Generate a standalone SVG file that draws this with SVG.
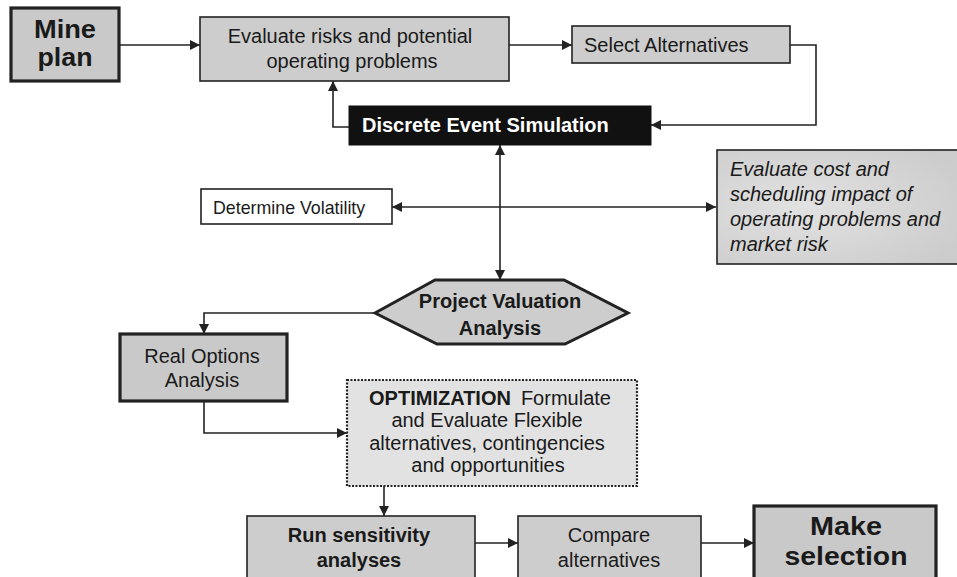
<svg xmlns="http://www.w3.org/2000/svg" width="957" height="577" viewBox="0 0 957 577">
<style>
text{font-family:"Liberation Sans",Arial,sans-serif;fill:#1a1a1a}
.box{fill:#cdcdcd;stroke:#222;stroke-width:1.6}
.thick{fill:#c9c9c9;stroke:#222;stroke-width:3.2}
.t20{font-size:20px}
.b20{font-size:20px;font-weight:bold}
.big{font-size:25px;font-weight:bold}
.c{text-anchor:middle}
.ln{fill:none;stroke:#222;stroke-width:1.6}
</style>
<defs>
<marker id="ah" viewBox="0 0 10 10" refX="10" refY="5" markerWidth="10" markerHeight="10" markerUnits="userSpaceOnUse" orient="auto-start-reverse">
<path d="M0,0 L10,5 L0,10 z" fill="#222"/>
</marker>
<radialGradient id="soft" cx="0.35" cy="0.5" r="0.7">
<stop offset="0" stop-color="#e2e2e2"/>
<stop offset="1" stop-color="#cccccc"/>
</radialGradient>
</defs>
<rect width="957" height="577" fill="#fff"/>

<g id="connectors">
<line class="ln" x1="119" y1="45" x2="200" y2="45" marker-end="url(#ah)"/>
<line class="ln" x1="509" y1="45" x2="572" y2="45" marker-end="url(#ah)"/>
<polyline class="ln" points="790,45 816,45 816,125 651,125" marker-end="url(#ah)"/>
<polyline class="ln" points="349,127 333,127 333,81" marker-end="url(#ah)"/>
<line class="ln" x1="500" y1="145" x2="500" y2="280" marker-start="url(#ah)" marker-end="url(#ah)"/>
<line class="ln" x1="392" y1="207" x2="716" y2="207" marker-start="url(#ah)" marker-end="url(#ah)"/>
<polyline class="ln" points="375,313 204,313 204,334" marker-end="url(#ah)"/>
<polyline class="ln" points="204,402 204,433 347,433" marker-end="url(#ah)"/>
<line class="ln" x1="384" y1="486" x2="384" y2="516" marker-end="url(#ah)"/>
<line class="ln" x1="475" y1="543" x2="518" y2="543" marker-end="url(#ah)"/>
<line class="ln" x1="701" y1="543" x2="754" y2="543" marker-end="url(#ah)"/>
</g>

<g id="mine-plan">
<rect class="thick" x="11" y="8" width="108" height="73"/>
<text class="big c" x="65" y="38" textLength="62" lengthAdjust="spacingAndGlyphs">Mine</text>
<text class="big c" x="65" y="66" textLength="55" lengthAdjust="spacingAndGlyphs">plan</text>
</g>

<g id="evaluate-risks">
<rect class="box" x="200" y="17" width="309" height="64"/>
<text class="t20 c" x="350" y="43">Evaluate risks and potential</text>
<text class="t20 c" x="352" y="68">operating problems</text>
</g>

<g id="select-alternatives">
<rect class="box" x="572" y="26" width="218" height="37"/>
<text class="t20" x="584" y="52">Select Alternatives</text>
</g>

<g id="discrete-event-simulation">
<rect x="349" y="106" width="302" height="39" fill="#111" stroke="#111"/>
<text class="b20" x="362" y="132" style="fill:#fff">Discrete Event Simulation</text>
</g>

<g id="determine-volatility">
<rect x="201" y="189" width="191" height="35" fill="#fff" stroke="#222" stroke-width="1.6"/>
<text x="213" y="214" style="font-size:17.8px">Determine Volatility</text>
</g>

<g id="evaluate-cost">
<rect x="717" y="150" width="250" height="114" fill="url(#soft)" stroke="#222" stroke-width="1.6"/>
<text class="t20" x="730" y="176" font-style="italic">Evaluate cost and</text>
<text class="t20" x="730" y="201" font-style="italic">scheduling impact of</text>
<text class="t20" x="730" y="226" font-style="italic">operating problems and</text>
<text class="t20" x="730" y="251" font-style="italic">market risk</text>
</g>

<g id="project-valuation">
<polygon points="375,313 435,280 564,280 628,313 565,344 437,344" fill="#cdcdcd" stroke="#222" stroke-width="3"/>
<text class="b20 c" x="500" y="308">Project Valuation</text>
<text class="b20 c" x="500" y="335">Analysis</text>
</g>

<g id="real-options">
<rect class="thick" x="120" y="334" width="167" height="67"/>
<text class="t20 c" x="202" y="363">Real Options</text>
<text class="t20 c" x="202" y="387">Analysis</text>
</g>

<g id="optimization">
<rect x="347" y="380" width="290" height="106" fill="#e2e2e2" stroke="#222" stroke-width="2.2" stroke-dasharray="2,1.5"/>
<text class="t20 c" x="490" y="405"><tspan font-weight="bold">OPTIMIZATION</tspan><tspan dx="10">Formulate</tspan></text>
<text class="t20 c" x="487" y="427">and Evaluate Flexible</text>
<text class="t20 c" x="487" y="450">alternatives, contingencies</text>
<text class="t20 c" x="488" y="472">and opportunities</text>
</g>

<g id="run-sensitivity">
<rect class="box" x="247" y="516" width="228" height="80"/>
<text class="b20 c" x="359" y="542">Run sensitivity</text>
<text class="b20 c" x="359" y="567">analyses</text>
</g>

<g id="compare-alternatives">
<rect class="box" x="518" y="516" width="183" height="80"/>
<text class="t20 c" x="609" y="542">Compare</text>
<text class="t20 c" x="609" y="567">alternatives</text>
</g>

<g id="make-selection">
<rect class="thick" x="754" y="506" width="182" height="90"/>
<text class="big c" x="846" y="535" textLength="72" lengthAdjust="spacingAndGlyphs">Make</text>
<text class="big c" x="846" y="565" textLength="123" lengthAdjust="spacingAndGlyphs">selection</text>
</g>
</svg>
